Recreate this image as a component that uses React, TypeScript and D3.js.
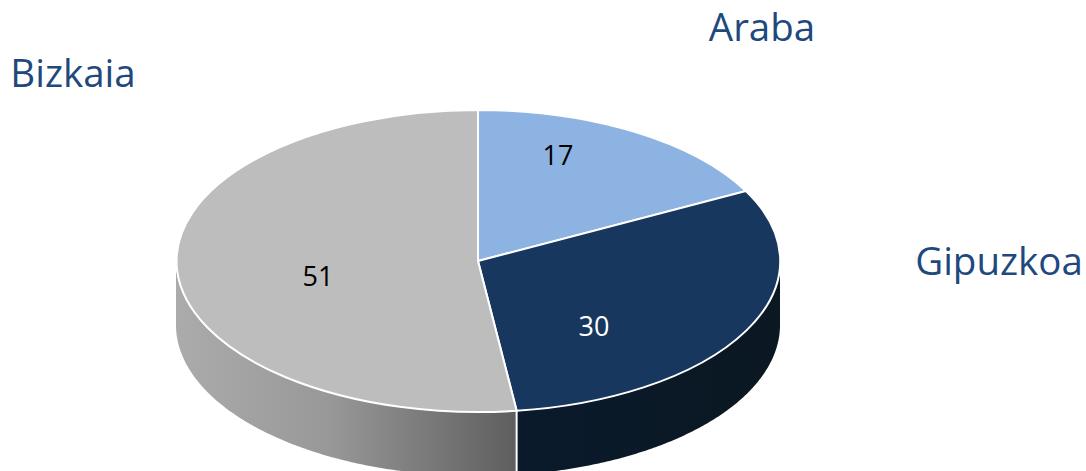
import * as d3 from 'd3';

const categories = ['Araba', 'Gipuzkoa', 'Bizkaia'];
const values = [17, 30, 51];

const topColors = ['#8db3e2', '#17375e', '#bdbdbd'];
const labelColors = ['#000000', '#ffffff', '#000000'];

// hand placed, like the original office chart
const valuePos = [[558, 165], [594, 336], [318, 286]];
const namePos = [[762, 41], [999, 275], [73, 87]];

const width = 1086;
const height = 471;
const cx = 478;
const cy = 261;
const rx = 302;
const ry = 151;
const depth = 64;

function App() {
  const slices = d3.pie<number>().sort(null)(values);

  const arc = d3.arc<d3.PieArcDatum<number>>().innerRadius(0).outerRadius(1);

  const wall = d3
    .area<number>()
    .x((a) => cx + rx * Math.sin(a))
    .y0((a) => cy - ry * Math.cos(a))
    .y1((a) => cy - ry * Math.cos(a) + depth);

  // only the front half of the rim can be seen
  const wallAngles = (s: d3.PieArcDatum<number>) => {
    const from = Math.max(s.startAngle, Math.PI / 2);
    const to = Math.min(s.endAngle, (3 * Math.PI) / 2);
    if (from >= to) return [];
    return d3.range(from, to, 0.01).concat([to]);
  };

  const seam = slices[1].endAngle;
  const seamX = cx + rx * Math.sin(seam);
  const seamY = cy - ry * Math.cos(seam);

  return (
    <svg
      width={width}
      height={height}
      style={{ position: 'absolute', left: 0, top: 0, display: 'block', background: '#fff' }}
    >
      <defs>
        <linearGradient id='wallGrey' gradientUnits='userSpaceOnUse' x1={176} x2={517} y1={0} y2={0}>
          <stop offset='0' stopColor='#ababab' />
          <stop offset='0.45' stopColor='#989898' />
          <stop offset='1' stopColor='#5e5e5e' />
        </linearGradient>
        <linearGradient id='wallNavy' gradientUnits='userSpaceOnUse' x1={517} x2={780} y1={0} y2={0}>
          <stop offset='0' stopColor='#0a1a2c' />
          <stop offset='1' stopColor='#0b1822' />
        </linearGradient>
      </defs>

      <path d={wall(wallAngles(slices[1])) ?? ''} fill='url(#wallNavy)' />
      <path d={wall(wallAngles(slices[2])) ?? ''} fill='url(#wallGrey)' />
      <line x1={seamX} x2={seamX} y1={seamY} y2={seamY + depth} stroke='#fff' strokeWidth={2} />

      <g transform={`translate(${cx},${cy}) scale(${rx},${ry})`}>
        {slices.map((s, i) => (
          <path
            key={categories[i]}
            d={arc(s) ?? ''}
            fill={topColors[i]}
            stroke='#fff'
            strokeWidth={2}
            vectorEffect='non-scaling-stroke'
          />
        ))}
      </g>

      {values.map((v, i) => (
        <text
          key={categories[i]}
          x={valuePos[i][0]}
          y={valuePos[i][1]}
          textAnchor='middle'
          fontFamily='Open Sans'
          fontSize={27}
          fill={labelColors[i]}
        >
          {v}
        </text>
      ))}

      {categories.map((c, i) => (
        <text
          key={c}
          x={namePos[i][0]}
          y={namePos[i][1]}
          textAnchor='middle'
          fontFamily='Open Sans'
          fontSize={38.5}
          fill='#1f497d'
        >
          {c}
        </text>
      ))}
    </svg>
  );
}

export default App;
